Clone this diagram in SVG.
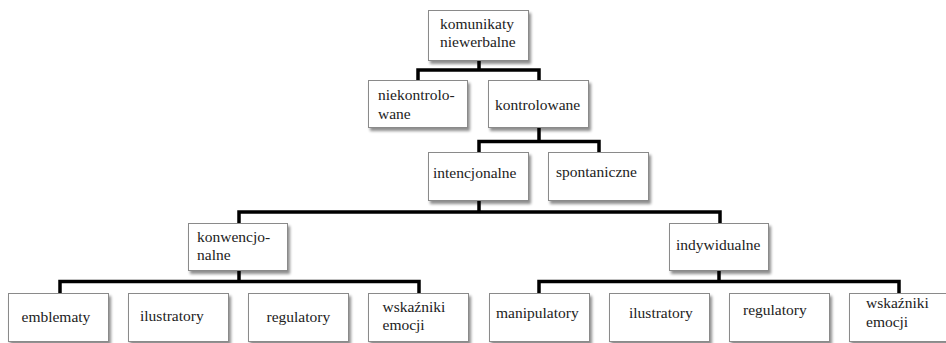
<svg xmlns="http://www.w3.org/2000/svg" width="946" height="343" viewBox="0 0 946 343">
<defs>
<filter id="sh" x="-10%" y="-10%" width="130%" height="140%">
<feGaussianBlur in="SourceAlpha" stdDeviation="1.6"/>
<feOffset dx="2" dy="2.5" result="b"/>
<feComponentTransfer><feFuncA type="linear" slope="0.45"/></feComponentTransfer>
<feMerge><feMergeNode/><feMergeNode in="SourceGraphic"/></feMerge>
</filter>
</defs>
<style>
.box{fill:#fff;stroke:#8a8a8a;stroke-width:1;filter:url(#sh)}
.c{fill:none;stroke:#000;stroke-width:3.5;stroke-linejoin:miter;stroke-linecap:butt}
</style>
<rect width="946" height="343" fill="#fff"/>
<g id="connectors">
<path class="c" d="M479,61 V70 M418,80 V70 H539 V80"/>
<path class="c" d="M539,128 V141.5 M479,152 V141.5 H599 V152"/>
<path class="c" d="M479,201 V212 M239,223 V212 H720 V223"/>
<path class="c" d="M239,271 V281.5 M60,293 V281.5 H419 V293"/>
<path class="c" d="M719,271 V281.5 M539,293 V281.5 H899 V293"/>
</g>
<g id="nodes" font-family="Liberation Serif, DejaVu Serif, serif" font-size="15.5" fill="#222">
<g id="n-komunikaty"><rect class="box" x="428.5" y="10.5" width="100" height="50"/><text x="440" y="28.5">komunikaty</text><text x="440" y="46.5">niewerbalne</text></g>
<g id="n-niekontrolowane"><rect class="box" x="368.5" y="80.5" width="99" height="47"/><text x="378" y="100">niekontrolo-</text><text x="378" y="118.5">wane</text></g>
<g id="n-kontrolowane"><rect class="box" x="488.5" y="80.5" width="100" height="47"/><text x="495" y="109.5">kontrolowane</text></g>
<g id="n-intencjonalne"><rect class="box" x="428.5" y="152.5" width="100" height="48"/><text x="433" y="178">intencjonalne</text></g>
<g id="n-spontaniczne"><rect class="box" x="548.5" y="152.5" width="100" height="48"/><text x="556" y="177">spontaniczne</text></g>
<g id="n-konwencjonalne"><rect class="box" x="188.5" y="223.5" width="99" height="47"/><text x="197" y="241.5">konwencjo-</text><text x="197" y="259.5">nalne</text></g>
<g id="n-indywidualne"><rect class="box" x="669.5" y="223.5" width="99" height="47"/><text x="676" y="250">indywidualne</text></g>
<g id="n-emblematy"><rect class="box" x="8.5" y="293.5" width="100" height="48"/><text x="21.5" y="321.5">emblematy</text></g>
<g id="n-ilustratory1"><rect class="box" x="128.5" y="293.5" width="100" height="48"/><text x="140" y="321">ilustratory</text></g>
<g id="n-regulatory1"><rect class="box" x="248.5" y="293.5" width="100" height="48"/><text x="266.5" y="321.5">regulatory</text></g>
<g id="n-wskazniki1"><rect class="box" x="368.5" y="293.5" width="100" height="48"/><text x="382.5" y="311.5">wskaźniki</text><text x="382.5" y="330">emocji</text></g>
<g id="n-manipulatory"><rect class="box" x="489.5" y="293.5" width="100" height="48"/><text x="496" y="318">manipulatory</text></g>
<g id="n-ilustratory2"><rect class="box" x="609.5" y="293.5" width="100" height="48"/><text x="629" y="318">ilustratory</text></g>
<g id="n-regulatory2"><rect class="box" x="729.5" y="293.5" width="100" height="48"/><text x="743" y="315">regulatory</text></g>
<g id="n-wskazniki2"><rect class="box" x="849.5" y="293.5" width="100" height="48"/><text x="866" y="308">wskaźniki</text><text x="866" y="327">emocji</text></g>
</g>
</svg>
